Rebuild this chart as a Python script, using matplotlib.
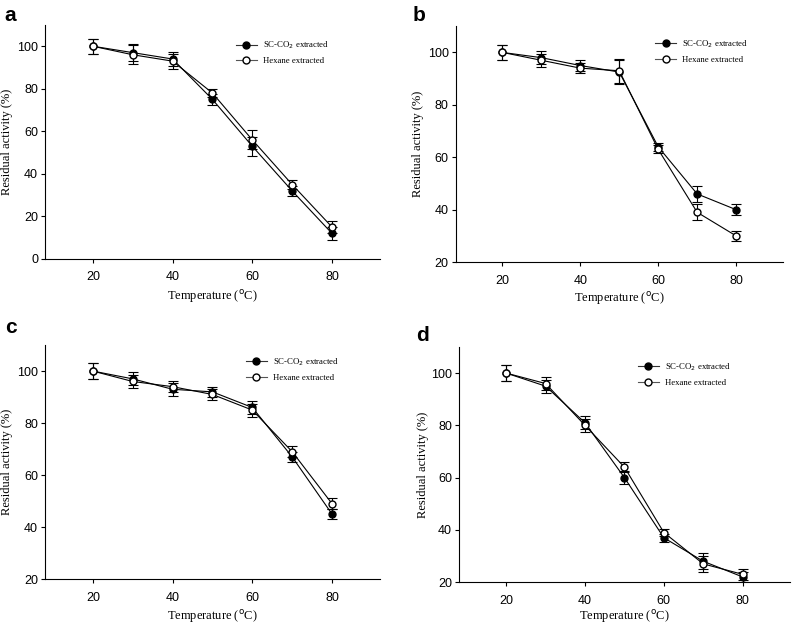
import numpy as np
import matplotlib
matplotlib.use('Agg')
from matplotlib import pyplot as plt
from matplotlib.lines import Line2D

temps = [20, 30, 40, 50, 60, 70, 80]

sc_a = [100, 97, 94, 75, 53, 32, 12]
sc_a_err = [3.5, 4, 3.5, 2.5, 4.5, 2.5, 3]
hx_a = [100, 96, 93, 78, 56, 35, 15]
hx_a_err = [3.5, 4.5, 3.5, 2, 4.5, 2, 3]

sc_b = [100, 98, 95, 92.5, 64, 46, 40]
sc_b_err = [3, 2.5, 2, 4.5, 1.5, 3, 2]
hx_b = [100, 97, 94, 93, 63, 39, 30]
hx_b_err = [3, 2.5, 2, 4.5, 1.5, 3, 2]

sc_c = [100, 97, 93, 92, 86, 67, 45]
sc_c_err = [3, 2.5, 2.5, 2, 2.5, 2, 2]
hx_c = [100, 96, 94, 91, 85, 69, 49]
hx_c_err = [3, 2.5, 2, 2, 2.5, 2, 2]

sc_d = [100, 95, 81, 60, 37, 28, 22]
sc_d_err = [3, 2.5, 2.5, 2.5, 1.5, 3, 2]
hx_d = [100, 96, 80, 64, 39, 27, 23]
hx_d_err = [3, 2.5, 2.5, 2, 1.5, 3, 2]

# name, axes rect, ylim, yticks, data, ylabel x, xlabel y, legend anchor
panels = [
    ('a', [0.0564, 0.585, 0.4196, 0.375], (0, 110), [0, 20, 40, 60, 80, 100],
     sc_a, sc_a_err, hx_a, hx_a_err, -0.113, -0.162, (0.57, 0.937)),
    ('b', [0.571, 0.580, 0.410, 0.378], (20, 110), [20, 40, 60, 80, 100],
     sc_b, sc_b_err, hx_b, hx_b_err, -0.116, -0.155, (0.61, 0.95)),
    ('c', [0.0564, 0.072, 0.4196, 0.375], (20, 110), [20, 40, 60, 80, 100],
     sc_c, sc_c_err, hx_c, hx_c_err, -0.113, -0.16, (0.60, 0.953)),
    ('d', [0.575, 0.067, 0.415, 0.377], (20, 110), [20, 40, 60, 80, 100],
     sc_d, sc_d_err, hx_d, hx_d_err, -0.109, -0.146, (0.54, 0.94)),
]
letter_pos = {'a': (0.006, 0.975), 'b': (0.517, 0.975), 'c': (0.006, 0.475), 'd': (0.522, 0.462)}

serif = 'Liberation Serif'
sans = 'Liberation Sans'

fig = plt.figure(figsize=(7.98, 6.24), dpi=100)
for name, rect, ylim, yticks, sc, sc_err, hx, hx_err, ylx, xly, leg_at in panels:
    ax = fig.add_axes(rect)
    ax.errorbar(temps, sc, yerr=sc_err, color='black', lw=0.8, marker='o', ms=5,
                mfc='black', mec='black', capsize=3.5, elinewidth=0.8, capthick=0.8,
                zorder=3)
    ax.errorbar(temps, hx, yerr=hx_err, color='black', lw=0.8, marker='o', ms=5,
                mfc='white', mec='black', capsize=3.5, elinewidth=0.8, capthick=0.8,
                zorder=4)
    ax.set_xlim(8, 92)
    ax.set_ylim(*ylim)
    ax.set_xticks([20, 40, 60, 80])
    ax.set_yticks(yticks)
    for s in ['top', 'right']:
        ax.spines[s].set_visible(False)
    for s in ['left', 'bottom']:
        ax.spines[s].set_linewidth(0.8)
    ax.tick_params(labelsize=9, width=0.8, length=3)
    ax.tick_params(axis='x', pad=6)
    ax.tick_params(axis='y', pad=2)
    for lab in ax.get_xticklabels() + ax.get_yticklabels():
        lab.set_fontfamily(sans)
    ax.set_xlabel('Temperature ($^{\\rm o}$C)', fontfamily=serif, fontsize=9)
    ax.set_ylabel('Residual activity (%)', fontfamily=serif, fontsize=9)
    ax.yaxis.set_label_coords(ylx, 0.5)
    ax.xaxis.set_label_coords(0.5, xly)
    ax.xaxis.label.set_va('center')
    ax.yaxis.label.set_va('center')

    handles = [Line2D([], [], color='#333333', lw=0.8, marker='o', ms=5, mfc='black', mec='black'),
               Line2D([], [], color='#555555', lw=0.8, marker='o', ms=5, mfc='white', mec='black')]
    ax.legend(handles, ['SC-CO$_2$ extracted', 'Hexane extracted'], loc='upper left',
              bbox_to_anchor=leg_at, frameon=False, borderpad=0, borderaxespad=0,
              prop={'family': serif, 'size': 6.3}, handlelength=2.4, handletextpad=0.7,
              labelspacing=0.7)
    fig.text(letter_pos[name][0], letter_pos[name][1], name, fontsize=15,
             fontweight='bold', fontfamily=sans, va='center')

fig.savefig('out.png', dpi=100)
